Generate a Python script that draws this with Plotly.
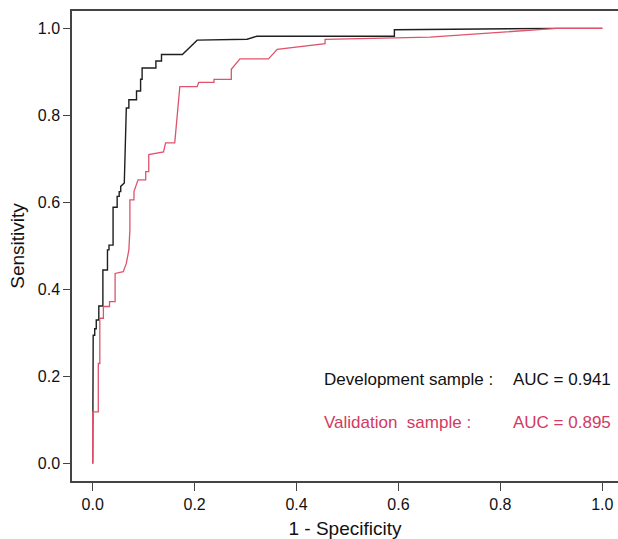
import plotly.graph_objects as go

# ROC curve vertices (1 - specificity, sensitivity)
dev_fpr = [0, 0, 0.001, 0.001, 0.004, 0.004, 0.007, 0.007, 0.012, 0.012, 0.020, 0.020,
           0.029, 0.029, 0.032, 0.032, 0.040, 0.040, 0.048, 0.048, 0.052, 0.052, 0.055,
           0.055, 0.062, 0.066, 0.071, 0.071, 0.086, 0.086, 0.094, 0.094, 0.097, 0.097,
           0.124, 0.124, 0.135, 0.135, 0.176, 0.205, 0.303, 0.322, 0.592, 0.592, 0.910, 1.0]
dev_tpr = [0, 0.190, 0.190, 0.295, 0.295, 0.310, 0.310, 0.330, 0.330, 0.362, 0.362, 0.445,
           0.445, 0.491, 0.491, 0.502, 0.502, 0.589, 0.589, 0.614, 0.614, 0.625, 0.625,
           0.637, 0.645, 0.817, 0.817, 0.836, 0.836, 0.856, 0.856, 0.883, 0.883, 0.909,
           0.909, 0.925, 0.925, 0.940, 0.940, 0.973, 0.975, 0.982, 0.982, 0.997, 1.0, 1.0]

val_fpr = [0, 0, 0.011, 0.011, 0.014, 0.014, 0.021, 0.021, 0.033, 0.033, 0.044, 0.044,
           0.060, 0.066, 0.071, 0.073, 0.073, 0.081, 0.081, 0.089, 0.104, 0.104, 0.110,
           0.110, 0.139, 0.143, 0.161, 0.171, 0.205, 0.208, 0.238, 0.238, 0.272, 0.272,
           0.289, 0.345, 0.362, 0.456, 0.456, 0.593, 0.662, 0.910, 1.0]
val_tpr = [0, 0.119, 0.119, 0.230, 0.230, 0.334, 0.334, 0.361, 0.361, 0.372, 0.372, 0.437,
           0.441, 0.460, 0.491, 0.537, 0.606, 0.606, 0.625, 0.652, 0.652, 0.671, 0.671,
           0.710, 0.716, 0.737, 0.737, 0.866, 0.866, 0.876, 0.876, 0.883, 0.883, 0.906,
           0.930, 0.930, 0.952, 0.965, 0.975, 0.979, 0.980, 1.0, 1.0]

ticks = [0.0, 0.2, 0.4, 0.6, 0.8, 1.0]
tick_text = ["0.0", "0.2", "0.4", "0.6", "0.8", "1.0"]

black = "#1e1e1e"
red = "#DF536B"
red_text = "#D23A62"
font = "Liberation Sans, Arial, sans-serif"

fig = go.Figure()
fig.add_trace(go.Scatter(x=dev_fpr, y=dev_tpr, mode="lines",
                         line=dict(color=black, width=1.4), showlegend=False))
fig.add_trace(go.Scatter(x=val_fpr, y=val_tpr, mode="lines",
                         line=dict(color=red, width=1.3), showlegend=False))

fig.add_annotation(x=0.450, y=0.194, text="Development sample :", showarrow=False,
                   xanchor="left", yanchor="middle", font=dict(color="#111", size=17))
fig.add_annotation(x=0.821, y=0.194, text="AUC = 0.941", showarrow=False,
                   xanchor="left", yanchor="middle", font=dict(color="#111", size=17))
fig.add_annotation(x=0.450, y=0.095, text="Validation&nbsp;&nbsp;sample :", showarrow=False,
                   xanchor="left", yanchor="middle", font=dict(color=red_text, size=17))
fig.add_annotation(x=0.821, y=0.095, text="AUC = 0.895", showarrow=False,
                   xanchor="left", yanchor="middle", font=dict(color=red_text, size=17))

fig.update_layout(
    width=618, height=539,
    margin=dict(l=72, r=0, t=11, b=58),
    plot_bgcolor="white", paper_bgcolor="white",
    font=dict(family=font, size=16, color="#111"),
)
fig.update_xaxes(
    range=[-0.0406, 1.0308], tickvals=ticks, ticktext=tick_text,
    showgrid=False, zeroline=False,
    showline=True, mirror=True, linecolor="#444", linewidth=1.5,
    ticks="outside", ticklen=8, tickcolor="#444", tickwidth=1,
    title=dict(text="1 - Specificity", standoff=10),
)
fig.update_yaxes(
    range=[-0.04, 1.04], tickvals=ticks, ticktext=tick_text,
    showgrid=False, zeroline=False,
    showline=True, linecolor="#444", linewidth=1.5,
    ticks="outside", ticklen=7, tickcolor="#444", tickwidth=1,
    title=dict(text="Sensitivity", standoff=8),
)

# drop the browser's default page margin so the figure sits at the window's corner
fig.write_html("out.html", config={"displayModeBar": False},
               post_script="document.body.style.margin='0';"
               "document.body.style.overflow='hidden';")
